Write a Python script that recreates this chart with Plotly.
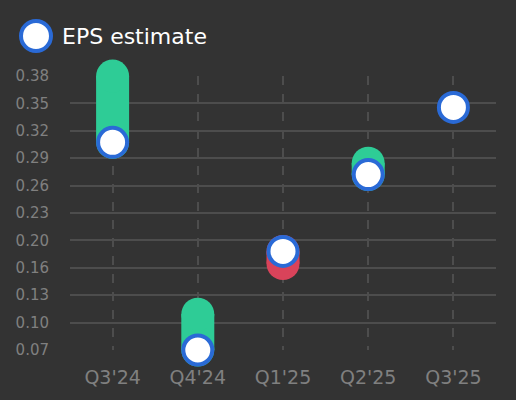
import plotly.graph_objects as go

quarters = ["Q3'24", "Q4'24", "Q1'25", "Q2'25", "Q3'25"]
eps_estimate = [0.308, 0.070, 0.183, 0.271, 0.348]
eps_actual = [0.3839, 0.111, 0.169, 0.284, None]
tick_values = [0.0700, 0.1014, 0.1328, 0.1642, 0.1956, 0.2270, 0.2584, 0.2898, 0.3212, 0.3526, 0.3840]
tick_labels = ["0.07", "0.10", "0.13", "0.16", "0.20", "0.23", "0.26", "0.29", "0.32", "0.35", "0.38"]

GREEN = "#2ecc96"
RED = "#d9435a"
BLUE = "#2a6ad6"
BG = "#333333"

fig = go.Figure()

for q, est, act in zip(quarters, eps_estimate, eps_actual):
    if act is None:
        continue
    color = GREEN if act >= est else RED
    fig.add_trace(go.Scatter(
        x=[q, q], y=[est, act], mode="lines+markers",
        line=dict(color=color, width=33),
        marker=dict(color=color, size=33, line=dict(width=0)),
        cliponaxis=False, showlegend=False, hoverinfo="skip",
    ))

fig.add_trace(go.Scatter(
    x=quarters, y=eps_estimate, mode="markers", name="EPS estimate",
    marker=dict(color="white", size=29, line=dict(color=BLUE, width=4)),
    cliponaxis=False, showlegend=False,
))

# legend drawn manually (large marker)
fig.add_shape(type="circle", xref="paper", yref="paper",
              xsizemode="pixel", ysizemode="pixel",
              xanchor=(36 - 70) / 426, yanchor=(350 - 36) / 274,
              x0=-15, x1=15, y0=-15, y1=15,
              fillcolor="white", line=dict(color=BLUE, width=4))
fig.add_annotation(text="EPS estimate", xref="paper", yref="paper",
                   x=(60 - 70) / 426, y=(350 - 37) / 274,
                   xanchor="left", yanchor="middle", showarrow=False,
                   font=dict(color="white", size=22, family="DejaVu Sans"))

fig.update_layout(
    width=516, height=400,
    paper_bgcolor=BG, plot_bgcolor=BG,
    margin=dict(l=70, r=20, t=76, b=50),
    font=dict(family="DejaVu Sans", color="#808080"),
    showlegend=False,
    xaxis=dict(
        type="category", range=[-0.5, 4.5],
        showgrid=True, gridcolor="#4d4d4d", griddash="dash", gridwidth=1.5,
        zeroline=False, showline=False, ticks="",
        tickfont=dict(size=19, color="#808080"),
        ticklabelstandoff=14,
    ),
    yaxis=dict(
        range=[0.07, 0.384],
        tickvals=tick_values, ticktext=tick_labels,
        showgrid=True, gridcolor="#4d4d4d", gridwidth=2,
        zeroline=False, showline=False, ticks="",
        tickfont=dict(size=15, color="#808080"),
        ticklabelstandoff=20,
    ),
)

fig.write_html(
    "out.html",
    config={"displayModeBar": False},
    post_script="document.body.style.margin='0';document.body.style.overflow='hidden';document.body.style.background='#333333';",
)
